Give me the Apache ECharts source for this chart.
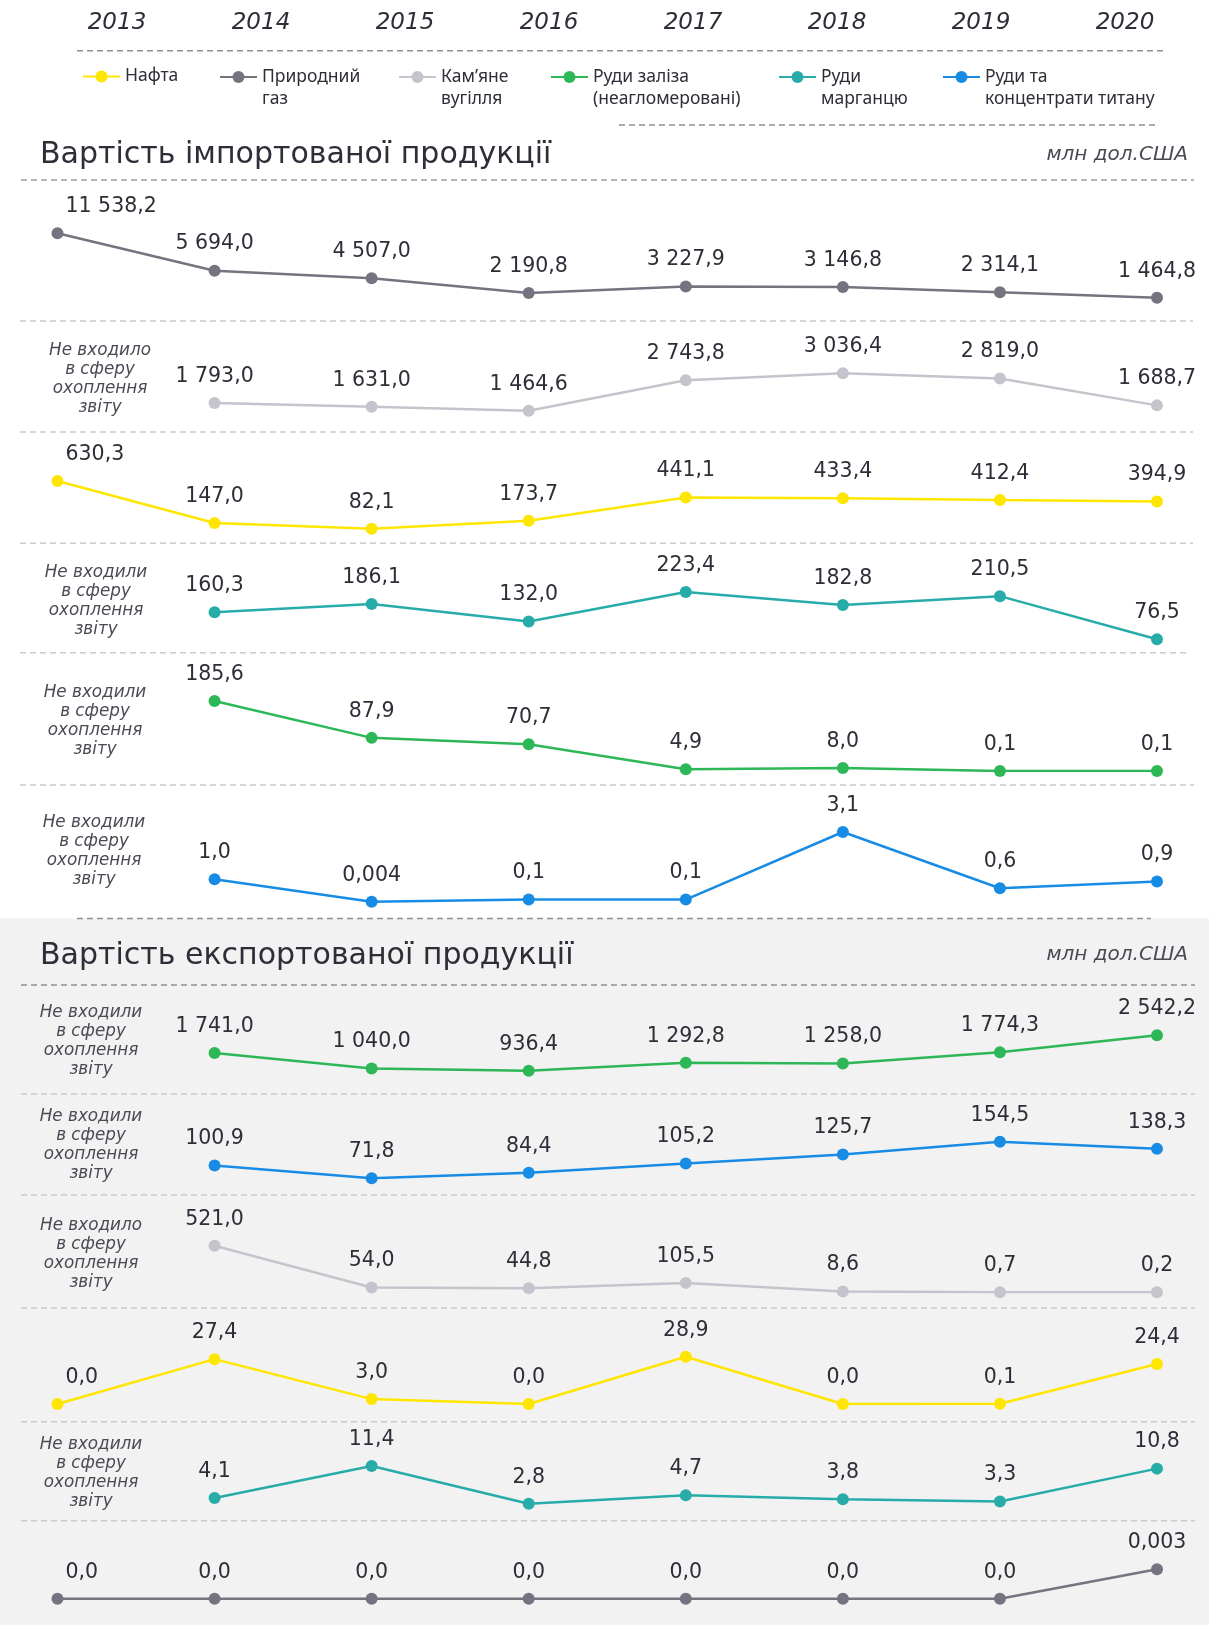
<!DOCTYPE html>
<html>
<head>
<meta charset="utf-8">
<script src="https://cdn.jsdelivr.net/npm/echarts@6/dist/echarts.min.js"></script>
<style>
html,body{margin:0;padding:0;background:#fff;}
#chart{width:1209px;height:1625px;}
</style>
</head>
<body>
<div id="chart"></div>
<script>
// ---------- DATA ----------
const years = ['2013', '2014', '2015', '2016', '2017', '2018', '2019', '2020'];

const nameOil = 'Нафта';
const nameGas = 'Природний газ';
const nameCoal = 'Кам’яне вугілля';
const nameIron = 'Руди заліза (неагломеровані)';
const nameMn = 'Руди марганцю';
const nameTi = 'Руди та концентрати титану';

const legendNames = [nameOil, nameGas, nameCoal, nameIron, nameMn, nameTi];
const legendTexts = ['Нафта', 'Природний\nгаз', 'Кам’яне\nвугілля', 'Руди заліза\n(неагломеровані)', 'Руди\nмарганцю', 'Руди та\nконцентрати титану'];

// Import, mln USD
const importGas = [11538.2, 5694.0, 4507.0, 2190.8, 3227.9, 3146.8, 2314.1, 1464.8];
const importCoal = [null, 1793.0, 1631.0, 1464.6, 2743.8, 3036.4, 2819.0, 1688.7];
const importOil = [630.3, 147.0, 82.1, 173.7, 441.1, 433.4, 412.4, 394.9];
const importMn = [null, 160.3, 186.1, 132.0, 223.4, 182.8, 210.5, 76.5];
const importIron = [null, 185.6, 87.9, 70.7, 4.9, 8.0, 0.1, 0.1];
const importTi = [null, 1.0, 0.004, 0.1, 0.1, 3.1, 0.6, 0.9];

// Export, mln USD
const exportIron = [null, 1741.0, 1040.0, 936.4, 1292.8, 1258.0, 1774.3, 2542.2];
const exportTi = [null, 100.9, 71.8, 84.4, 105.2, 125.7, 154.5, 138.3];
const exportCoal = [null, 521.0, 54.0, 44.8, 105.5, 8.6, 0.7, 0.2];
const exportOil = [0.0, 27.4, 3.0, 0.0, 28.9, 0.0, 0.1, 24.4];
const exportMn = [null, 4.1, 11.4, 2.8, 4.7, 3.8, 3.3, 10.8];
const exportGas = [0.0, 0.0, 0.0, 0.0, 0.0, 0.0, 0.0, 0.003];

const noteSingular = 'Не входило\nв сферу\nохоплення\nзвіту';
const notePlural = 'Не входили\nв сферу\nохоплення\nзвіту';

const titleImport = 'Вартість імпортованої продукції';
const titleExport = 'Вартість експортованої продукції';
const unitText = 'млн дол.США';

// ---------- STYLE / LAYOUT ----------
const colors = {};
colors[nameOil] = '#FFE600';
colors[nameGas] = '#747480';
colors[nameCoal] = '#C4C4CD';
colors[nameIron] = '#2DB757';
colors[nameMn] = '#27ACAA';
colors[nameTi] = '#188CE5';

const panels = [
  {name: nameGas, data: importGas, top: 233.3, height: 64.4},
  {name: nameCoal, data: importCoal, top: 373.3, height: 37.4, note: noteSingular, nx: 100, ny: 379},
  {name: nameOil, data: importOil, top: 481, height: 47.7},
  {name: nameMn, data: importMn, top: 592, height: 47.3, note: notePlural, nx: 96, ny: 601},
  {name: nameIron, data: importIron, top: 701, height: 70, note: notePlural, nx: 95, ny: 721},
  {name: nameTi, data: importTi, top: 832, height: 69.7, note: notePlural, nx: 94, ny: 851},
  {name: nameIron, data: exportIron, top: 1035.3, height: 35.4, note: notePlural, nx: 91, ny: 1041},
  {name: nameTi, data: exportTi, top: 1141.7, height: 36.6, note: notePlural, nx: 91, ny: 1145},
  {name: nameCoal, data: exportCoal, top: 1245.7, height: 46.6, note: noteSingular, nx: 91, ny: 1254},
  {name: nameOil, data: exportOil, top: 1356.7, height: 47.3},
  {name: nameMn, data: exportMn, top: 1466, height: 37.7, note: notePlural, nx: 91, ny: 1473},
  {name: nameGas, data: exportGas, top: 1569.3, height: 29.4}
];

const legendLeft = [82, 219, 398, 550, 778, 942];

const dark = '#2E2E38';
const midLine = '#8E8E96';
const lightLine = '#C9C9D1';
const sepLines = [
  [50.7, 77, 1163, midLine],
  [125, 619, 1155, midLine],
  [180, 21, 1194, '#9C9CA4'],
  [321, 20, 1193, lightLine],
  [432, 20, 1193, lightLine],
  [543.3, 20, 1193, lightLine],
  [652.7, 20, 1190, lightLine],
  [785, 20, 1194, lightLine],
  [918.5, 77, 1151, midLine],
  [985, 21, 1195, midLine],
  [1094, 21, 1195, lightLine],
  [1195, 21, 1195, lightLine],
  [1308, 21, 1195, lightLine],
  [1421.7, 21, 1195, lightLine],
  [1520.7, 21, 1195, lightLine]
];

function fmt(v) {
  const d = (v !== 0 && Math.abs(v) < 0.05) ? 3 : 1;
  const parts = Number(v).toFixed(d).split('.');
  const intPart = parts[0].replace(/\B(?=(\d{3})+(?!\d))/g, ' ');
  return intPart + ',' + parts[1];
}

const grids = [], xAxes = [], yAxes = [], series = [], graphics = [];

// background for export block
graphics.push({type: 'rect', z: -100, silent: true, shape: {x: 0, y: 918.5, width: 1209, height: 707}, style: {fill: '#F2F2F2'}});

sepLines.forEach(function (l) {
  graphics.push({type: 'line', z: -50, silent: true, shape: {x1: l[1], y1: l[0], x2: l[2], y2: l[0]}, style: {stroke: l[3], lineWidth: 1.5, lineDash: [6, 4]}});
});

// titles: [text, titleY, unitY]
[[titleImport, 155, 155], [titleExport, 956, 955]].forEach(function (t) {
  graphics.push({type: 'text', x: 40, y: t[1], style: {text: t[0], fill: dark, fontFamily: 'DejaVu Sans', fontSize: 30, align: 'left', verticalAlign: 'middle'}});
  graphics.push({type: 'text', x: 1188, y: t[2], style: {text: unitText, fill: '#4A4A55', fontFamily: 'DejaVu Sans', fontStyle: 'italic', fontSize: 20, align: 'right', verticalAlign: 'middle'}});
});

panels.forEach(function (p, i) {
  const vals = p.data.filter(function (v) { return v != null; });
  grids.push({left: 57.5, right: 52, top: p.top, height: p.height});
  xAxes.push({type: 'category', gridIndex: i, data: years, boundaryGap: false, show: false});
  yAxes.push({type: 'value', gridIndex: i, min: Math.min.apply(null, vals), max: Math.max.apply(null, vals), show: false, splitLine: {show: false}});
  const c = colors[p.name];
  series.push({
    type: 'line', name: p.name, xAxisIndex: i, yAxisIndex: i,
    data: p.data.map(function (v, k) {
      if (k === 0 && v != null) return {value: v, label: {align: 'left', offset: [8, 0]}};
      return v;
    }),
    symbol: 'circle', symbolSize: 12, showSymbol: true,
    lineStyle: {width: 2.5, color: c}, itemStyle: {color: c},
    label: {show: true, position: 'top', distance: 10, fontFamily: 'DejaVu Sans', fontSize: 20.5, color: dark,
      formatter: function (prm) { return fmt(prm.value); }},
    emphasis: {disabled: true}, animation: false, z: 3
  });
  if (p.note) {
    graphics.push({type: 'text', x: p.nx, y: p.ny, style: {text: p.note, fill: '#4A4A55', fontFamily: 'DejaVu Sans', fontStyle: 'italic', fontSize: 16.8, lineHeight: 19, align: 'center', verticalAlign: 'middle'}});
  }
});

// year axis
const yi = panels.length;
grids.push({left: 45, width: 1152, top: 0, height: 1});
xAxes.push({type: 'category', gridIndex: yi, data: years, boundaryGap: true, position: 'bottom',
  axisLine: {show: false}, axisTick: {show: false},
  axisLabel: {margin: 22, verticalAlign: 'middle', fontStyle: 'italic', fontSize: 23, fontFamily: 'DejaVu Sans', color: dark}});
yAxes.push({type: 'value', gridIndex: yi, show: false});

// two-line legend texts get a leading blank line so the icon sits on the first text line
const legends = legendNames.map(function (n, i) {
  const two = legendTexts[i].indexOf('\n') >= 0;
  return {
    data: [n], left: legendLeft[i], top: two ? 44 : 65.5, orient: 'horizontal', padding: 0, itemGap: 0,
    itemWidth: 37, itemHeight: 15, selectedMode: false,
    formatter: two ? ' \n' + legendTexts[i] : legendTexts[i],
    textStyle: {fontFamily: 'Noto Sans', fontSize: 17.5, color: dark, lineHeight: 22}
  };
});

const chart = echarts.init(document.getElementById('chart'), null, {renderer: 'canvas'});
chart.setOption({
  backgroundColor: '#ffffff',
  animation: false,
  legend: legends,
  grid: grids,
  xAxis: xAxes,
  yAxis: yAxes,
  series: series,
  graphic: graphics
});
</script>
</body>
</html>
